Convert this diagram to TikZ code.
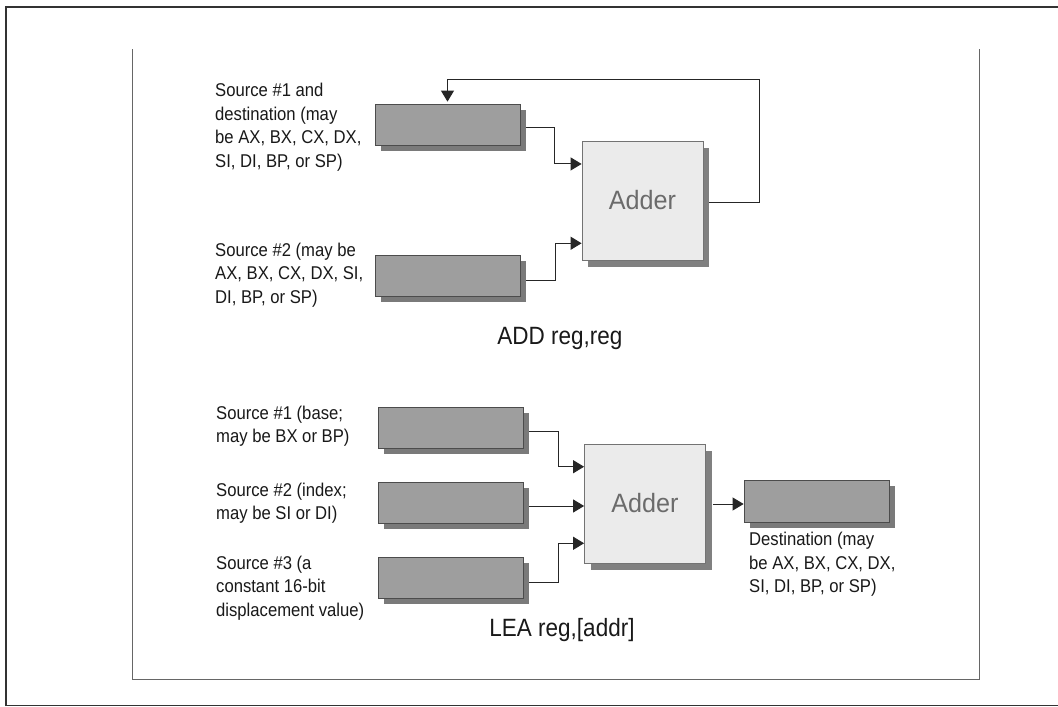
\documentclass[tikz,border=0pt]{standalone}
\usepackage{fontspec}
\setmainfont{Liberation Sans}
\newfontfamily\lblfont[FakeStretch=0.9]{Liberation Sans}
\newfontfamily\adderfont[FakeStretch=0.95]{Liberation Sans}
\usetikzlibrary{arrows.meta,calc,shadows}
\begin{document}
\begin{tikzpicture}[x=1pt,y=-1pt,
  reg/.style={draw=black!70,line width=0.8pt,fill=black!38,minimum width=145pt,minimum height=41pt,inner sep=0pt,
    general shadow={fill=black!52,shadow xshift=6pt,shadow yshift=-6pt}},
  adder/.style={draw=black!55,line width=0.8pt,fill=black!8,minimum width=121pt,minimum height=119pt,inner sep=0pt,
    font=\adderfont\fontsize{26.5}{30}\selectfont,text=black!58,
    general shadow={fill=black!50,shadow xshift=6pt,shadow yshift=-7pt}},
  lbl/.style={anchor=west,align=left,inner sep=0pt,font=\lblfont\fontsize{18.5}{23.5}\selectfont,text=black!90},
  captn/.style={inner sep=0pt,font=\lblfont\fontsize{25}{28}\selectfont,text=black!90},
  wire/.style={draw=black!85,line width=1pt},
  arr/.style={wire,-{Triangle[length=11pt,width=13pt]}},
]
\useasboundingbox (0,0) rectangle (1058,707);
\fill[white] (0,0) rectangle (1058,707);
% frames
\draw[black!80,line width=1.8pt] (6,706) -- (6,7) -- (1058,7);
\draw[black!80,line width=1.6pt] (6,705.5) -- (1058,705.5);
\draw[black!60,line width=1pt] (132,49) -- (132,679) -- (979,679) -- (979,49);

% ---------- ADD ----------
\node[reg] (r1) at (447.5,124.5) {};
\node[reg] (r2) at (447.5,275.5) {};
\node[adder] (a1) at (642.5,200.5) {Adder};
\node[lbl] (t1) at (215,127) {Source \#1 and\\destination (may\\be AX, BX, CX, DX,\\SI, DI, BP, or SP)};
\node[lbl] (t2) at (215,275) {Source \#2 (may be\\AX, BX, CX, DX, SI,\\DI, BP, or SP)};
\node[captn] (c1) at (560,338) {ADD reg,reg};

\draw[arr] ($(r1.east)+(6,2.5)$) -- ++(28,0) |- ($(a1.north west)!0.195!(a1.south west)$);
\draw[arr] ($(r2.east)+(6,4.5)$) -- ++(29,0) |- ($(a1.north west)!0.857!(a1.south west)$);
\draw[arr,shorten >=2pt] ($(a1.east)+(6,1.5)$) -| ++(50,-123) -| (r1.north);

% ---------- LEA ----------
\node[reg] (ra) at (450.5,427.5) {};
\node[reg] (rb) at (450.5,502.5) {};
\node[reg] (rc) at (450.5,577.5) {};
\node[adder] (a2) at (645,503.5) {Adder};
\node[reg,minimum height=42pt] (rd) at (816.5,501) {};
\node[lbl] (ta) at (216,426) {Source \#1 (base;\\may be BX or BP)};
\node[lbl] (tb) at (216,503) {Source \#2 (index;\\may be SI or DI)};
\node[lbl] (tc) at (216,588) {Source \#3 (a\\constant 16-bit\\displacement value)};
\node[lbl,anchor=north west] (td) at (749,532) {Destination (may\\be AX, BX, CX, DX,\\SI, DI, BP, or SP)};
\node[captn] (c2) at (562,630) {LEA reg,[addr]};

\coordinate (pb) at ($(rb.east)+(6,3.5)$);
\draw[arr] ($(ra.east)+(6,3.5)$) -- ++(29,0) |- ($(a2.north west)!0.193!(a2.south west)$);
\draw[arr] (pb) -- (pb -| a2.west);
\draw[arr] ($(rc.east)+(6,4.5)$) -- ++(29,0) |- ($(a2.north west)!0.832!(a2.south west)$);
\coordinate (po) at ($(a2.east)+(7,0.5)$);
\draw[arr] (po) -- (po -| rd.west);
\end{tikzpicture}
\end{document}
